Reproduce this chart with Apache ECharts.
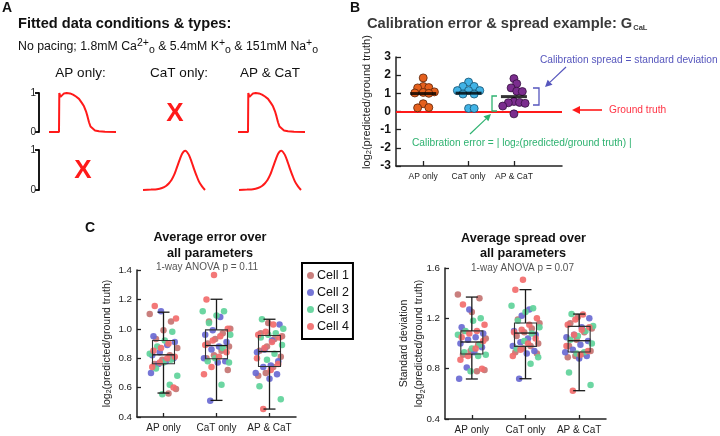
<!DOCTYPE html>
<html><head><meta charset="utf-8">
<script src="https://cdn.jsdelivr.net/npm/echarts@6/dist/echarts.min.js"></script>
<style>html,body{margin:0;padding:0;background:#fff}#c{width:720px;height:436px}</style>
</head><body><div id="c"></div>
<script>
// ---------- DATA ----------
const groups = ['AP only', 'CaT only', 'AP & CaT'];
const cells = ['Cell 1', 'Cell 2', 'Cell 3', 'Cell 4'];

// Panel A: normalised example traces
const apTime  = [0, 10, 10.3, 11.5, 13, 15, 17.7, 21, 24, 27, 30, 33, 35, 37, 38.5, 40, 41.5, 43, 46, 50, 56, 67];
const apValue = [0, 0, 1.0, 0.9, 0.95, 0.99, 1.0, 0.99, 0.96, 0.91, 0.85, 0.74, 0.66, 0.53, 0.4, 0.25, 0.14, 0.09, 0.04, 0.02, 0.005, 0];
const catTime  = [0, 8, 14, 19, 23, 26, 28.5, 31, 33, 35, 37, 39, 41, 42.5, 44, 46, 48.5, 51, 53.5, 56, 59, 62];
const catValue = [0, 0.01, 0.02, 0.05, 0.1, 0.17, 0.25, 0.37, 0.5, 0.64, 0.78, 0.9, 0.97, 0.98, 0.95, 0.87, 0.71, 0.53, 0.36, 0.21, 0.09, 0];
const traceTicks = [0, 1];

// Panel B: G_CaL example, log2(predicted/ground truth)
const gcalAP   = [1.85, 1.38, 1.32, 1.3, 1.08, 1.05, 1.02, 1.0, 0.43, 0.22, 0.2];
const gcalCaT  = [1.62, 1.38, 1.38, 1.15, 1.15, 1.15, 0.96, 0.96, 0.17, 0.17];
const gcalBoth = [1.81, 1.53, 1.3, 1.12, 1.1, 0.55, 0.5, 0.48, 0.45, 0.3, -0.13];
const bTicks = [-3, -2, -1, 0, 1, 2, 3];

// Panel C left: average error (per group: AP only, CaT only, AP & CaT)
const errCell1 = [[1.10, 1.05, 0.99, 0.93, 0.87, 0.82, 0.79, 0.76, 0.59, 0.56],
                  [1.05, 1.0, 0.97, 0.93, 0.90, 0.88, 0.85, 0.82, 0.80, 0.72],
                  [1.04, 0.97, 0.95, 0.93, 0.88, 0.85, 0.81, 0.74, 0.70, 0.68]];
const errCell2 = [[1.12, 0.95, 0.91, 0.89, 0.84, 0.82, 0.80, 0.78, 0.76, 0.70],
                  [1.08, 0.99, 0.96, 0.91, 0.88, 0.86, 0.80, 0.78, 0.77, 0.51],
                  [1.03, 0.92, 0.86, 0.84, 0.78, 0.75, 0.74, 0.70, 0.69, 0.66]];
const errCell3 = [[0.98, 0.92, 0.88, 0.83, 0.79, 0.77, 0.73, 0.68, 0.62, 0.555],
                  [1.12, 1.12, 1.09, 1.04, 0.96, 0.87, 0.80, 0.78, 0.77, 0.62],
                  [1.065, 1.0, 0.97, 0.96, 0.94, 0.89, 0.83, 0.79, 0.61, 0.52]];
const errCell4 = [[1.155, 1.07, 0.90, 0.87, 0.85, 0.81, 0.80, 0.77, 0.74, 0.60],
                  [1.366, 1.20, 1.0, 0.95, 0.92, 0.89, 0.84, 0.81, 0.74, 0.69],
                  [1.03, 0.98, 0.96, 0.94, 0.91, 0.87, 0.80, 0.76, 0.72, 0.454]];
// [min, Q1, median, Q3, max]
const errBoxes = [[0.563, 0.762, 0.823, 0.92, 1.113],
                  [0.513, 0.796, 0.886, 0.993, 1.201],
                  [0.454, 0.744, 0.845, 0.954, 1.065]];
const errTicks = [0.4, 0.6, 0.8, 1.0, 1.2, 1.4];

// Panel C right: average spread (standard deviation)
const sprCell1 = [[1.39, 1.36, 1.25, 1.10, 1.04, 0.99, 0.94, 0.91, 0.79, 0.78],
                  [1.19, 1.16, 1.12, 1.09, 1.06, 1.00, 0.98, 0.96, 0.93, 0.92],
                  [1.21, 1.16, 1.12, 1.09, 1.03, 0.98, 0.94, 0.92, 0.90, 0.89]];
const sprCell2 = [[1.27, 1.13, 1.08, 1.05, 1.03, 1.00, 0.97, 0.93, 0.81, 0.72],
                  [1.27, 1.22, 1.10, 1.07, 1.04, 1.01, 0.98, 0.94, 0.92, 0.72],
                  [1.20, 1.13, 1.07, 1.05, 1.02, 0.99, 0.95, 0.93, 0.90, 0.88]];
const sprCell3 = [[1.20, 1.18, 1.10, 1.07, 0.99, 0.96, 0.93, 0.91, 0.90, 0.78],
                  [1.30, 1.28, 1.25, 1.18, 1.13, 1.08, 1.02, 0.96, 0.89, 0.84],
                  [1.234, 1.14, 1.10, 1.06, 1.03, 1.0, 0.93, 0.92, 0.77, 0.67]];
const sprCell4 = [[1.31, 1.15, 1.10, 1.08, 1.05, 1.02, 0.96, 0.90, 0.87, 0.80],
                  [1.507, 1.428, 1.20, 1.15, 1.11, 1.09, 1.04, 1.00, 0.95, 0.90],
                  [1.23, 1.19, 1.15, 1.13, 1.11, 1.07, 0.98, 0.94, 0.91, 0.625]];
const sprBoxes = [[0.718, 0.916, 1.012, 1.10, 1.369],
                  [0.72, 0.977, 1.083, 1.163, 1.428],
                  [0.625, 0.932, 1.022, 1.136, 1.234]];
const sprTicks = [0.4, 0.8, 1.2, 1.6];

// ---------- STYLE ----------
const FONT = '"Liberation Sans", Arial, sans-serif';
const cellColors = ['#c47472', '#6a6ad2', '#5fd39a', '#f26c6c'];
const RED = '#ff1a1a';

// ---------- HELPERS ----------
const zip = (a, b) => a.map((v, i) => [v, b[i]]);
function jitter(k) { return (((k * 17) % 23) / 22 - 0.5) * 0.52; }
function cellPoints(cellArr, cellIdx) {
  const out = [];
  cellArr.forEach((vals, g) => vals.forEach((v, i) => out.push([g + jitter(cellIdx * 10 + i + g * 3), v])));
  return out;
}
function swarm(values, center, pxX, pxY, d) {
  const placed = [];
  const step = d / pxX / 2;
  values.forEach(v => {
    for (let k = 0; k < 40; k++) {
      const off = k === 0 ? 0 : (k % 2 ? 1 : -1) * Math.ceil(k / 2) * step;
      const ok = placed.every(p => Math.hypot((off - p[0]) * pxX, (v - p[1]) * pxY) >= d);
      if (ok) { placed.push([off, v]); break; }
    }
  });
  return placed.map(p => [center + p[0], p[1]]);
}
const mean = a => a.reduce((s, v) => s + v, 0) / a.length;

function boxRender(params, api) {
  const x = api.value(0);
  const c = v => api.coord([x, v]);
  const pMin = c(api.value(1)), pQ1 = c(api.value(2)), pMed = c(api.value(3)), pQ3 = c(api.value(4)), pMax = c(api.value(5));
  const cx = pMed[0], hw = 11, cw = 6;
  const ls = { stroke: '#1a1a1a', lineWidth: 1.3 };
  return { type: 'group', children: [
    { type: 'rect', shape: { x: cx - hw, y: pQ3[1], width: 2 * hw, height: pQ1[1] - pQ3[1] }, style: { stroke: '#333', lineWidth: 1.1, fill: 'rgba(0,0,0,0)' } },
    { type: 'line', shape: { x1: cx - hw, y1: pMed[1], x2: cx + hw, y2: pMed[1] }, style: ls },
    { type: 'line', shape: { x1: cx, y1: pQ3[1], x2: cx, y2: pMax[1] }, style: ls },
    { type: 'line', shape: { x1: cx, y1: pQ1[1], x2: cx, y2: pMin[1] }, style: ls },
    { type: 'line', shape: { x1: cx - cw, y1: pMax[1], x2: cx + cw, y2: pMax[1] }, style: ls },
    { type: 'line', shape: { x1: cx - cw, y1: pMin[1], x2: cx + cw, y2: pMin[1] }, style: ls }
  ]};
}

function txt(x, y, text, o) {
  return { type: 'text', x, y, z: 100, style: Object.assign({ text, fontFamily: FONT, fontSize: 12, fill: '#222', align: 'left', verticalAlign: 'middle' }, o || {}) };
}
function arrow(x1, y1, x2, y2, color, lw, L, W) {
  lw = lw || 1.2; L = L || 7; W = W || 3.5;
  const a = Math.atan2(y2 - y1, x2 - x1);
  const bx = x2 - L * Math.cos(a), by = y2 - L * Math.sin(a);
  const px = -Math.sin(a) * W, py = Math.cos(a) * W;
  return [
    { type: 'line', z: 100, shape: { x1, y1, x2: bx, y2: by }, style: { stroke: color, lineWidth: lw } },
    { type: 'polygon', z: 100, shape: { points: [[x2, y2], [bx + px, by + py], [bx - px, by - py]] }, style: { fill: color } }
  ];
}
function poly(points, color, lw) {
  return { type: 'polyline', z: 100, shape: { points }, style: { stroke: color, lineWidth: lw || 1.3, fill: null } };
}

// ---------- AXES ----------
const hiddenX = (gi, min, max) => ({ type: 'value', gridIndex: gi, min, max, show: false });
const hiddenY = gi => ({ type: 'value', gridIndex: gi, min: 0, max: 1, show: false });
const bracketY = gi => ({
  type: 'value', gridIndex: gi, min: 0, max: 1, interval: 1, offset: 10,
  axisLine: { show: true, onZero: false, lineStyle: { color: '#000', width: 1.8 } },
  axisTick: { show: true, inside: false, length: 4, lineStyle: { color: '#000', width: 1.8 } },
  axisLabel: { fontSize: 10, margin: 3, color: '#222', fontFamily: FONT },
  splitLine: { show: false }
});
const axLine = { show: true, onZero: false, lineStyle: { color: '#222', width: 1.5 } };
const axTick = { show: true, inside: true, length: 4, lineStyle: { color: '#222', width: 1.3 } };

const xAxis = [
  hiddenX(0, 0, 67), hiddenX(1, 0, 67), hiddenX(2, 0, 62), hiddenX(3, 0, 67), hiddenX(4, 0, 63),
  { type: 'value', gridIndex: 5, min: 0.4, max: 4.06, axisLine: axLine,
    axisTick: Object.assign({}, axTick, { length: 5, customValues: [1, 2, 3] }),
    axisLabel: { customValues: [1, 2, 3], formatter: v => groups[Math.round(v) - 1], fontSize: 8.5, margin: 6, color: '#222', fontFamily: FONT },
    splitLine: { show: false } },
  { type: 'category', gridIndex: 6, data: groups, axisLine: axLine,
    axisTick: Object.assign({}, axTick, { alignWithLabel: true }),
    axisLabel: { interval: 0, fontSize: 10, margin: 6, color: '#222', fontFamily: FONT } },
  hiddenX(6, -0.5, 2.5),
  { type: 'category', gridIndex: 7, data: groups, axisLine: axLine,
    axisTick: Object.assign({}, axTick, { alignWithLabel: true }),
    axisLabel: { interval: 0, fontSize: 10, margin: 6, color: '#222', fontFamily: FONT } },
  hiddenX(7, -0.5, 2.5)
];
const yAxis = [
  bracketY(0), bracketY(1), hiddenY(2), hiddenY(3), hiddenY(4),
  { type: 'value', gridIndex: 5, min: bTicks[0], max: bTicks[bTicks.length - 1], interval: 1,
    axisLine: axLine, axisTick: Object.assign({}, axTick, { length: 5 }),
    axisLabel: { fontSize: 12, fontWeight: 'bold', margin: 5, color: '#111', fontFamily: FONT },
    splitLine: { show: false } },
  { type: 'value', gridIndex: 6, min: errTicks[0], max: errTicks[errTicks.length - 1], interval: 0.2,
    axisLine: axLine, axisTick: axTick,
    axisLabel: { fontSize: 9.8, margin: 5, color: '#222', fontFamily: FONT, formatter: v => v.toFixed(1) },
    splitLine: { show: false },
    name: 'log{s|2}(predicted/ground truth)', nameLocation: 'middle', nameGap: 24,
    nameTextStyle: { fontSize: 10.5, color: '#222', fontFamily: FONT, rich: { s: { fontSize: 7, verticalAlign: 'bottom', fontFamily: FONT, color: '#222' } } } },
  { type: 'value', gridIndex: 7, min: sprTicks[0], max: sprTicks[sprTicks.length - 1], interval: 0.4,
    axisLine: axLine, axisTick: axTick,
    axisLabel: { fontSize: 9.8, margin: 5, color: '#222', fontFamily: FONT, formatter: v => v.toFixed(1) },
    splitLine: { show: false },
    name: 'Standard deviation\nlog{s|2}(predicted/ground truth)', nameLocation: 'middle', nameGap: 18, nameMoveOverlap: false,
    nameTextStyle: { fontSize: 10.5, lineHeight: 15, color: '#222', fontFamily: FONT, rich: { s: { fontSize: 7, verticalAlign: 'bottom', fontFamily: FONT, color: '#222' } } } }
];

// ---------- SERIES ----------
const series = [];
const traceLine = (xi, data, smooth) => ({ type: 'line', xAxisIndex: xi, yAxisIndex: xi, data, symbol: 'none', smooth, clip: false,
  lineStyle: { color: RED, width: 2 }, silent: true, z: 5 });
series.push(traceLine(0, zip(apTime, apValue), false));
series.push(traceLine(1, [], false));
series.push(traceLine(2, zip(catTime, catValue), 0.3));
series.push(traceLine(3, zip(apTime, apValue), false));
series.push(traceLine(4, zip(catTime, catValue), 0.3));

// Panel B
const bPxX = 166 / (4.06 - 0.4), bPxY = 109 / 6, bD = 5.6;
const bSets = [[gcalAP, '#e5601d', '#5a2308'], [gcalCaT, '#41b3e6', '#14506e'], [gcalBoth, '#7b2d8e', '#35103f']];
bSets.forEach((s, i) => {
  series.push({ type: 'scatter', xAxisIndex: 5, yAxisIndex: 5, data: swarm(s[0], i + 1, bPxX, bPxY, bD),
    symbolSize: 8, itemStyle: { color: s[1], borderColor: s[2], borderWidth: 0.8, opacity: 1 }, z: 4,
    markLine: i === 0 ? { silent: true, symbol: 'none', label: { show: false }, lineStyle: { color: RED, width: 2, type: 'solid' }, data: [{ yAxis: 0 }], z: 3 } : undefined });
});
series.push({ type: 'scatter', xAxisIndex: 5, yAxisIndex: 5, symbol: 'rect', symbolSize: [26, 3],
  data: [[1, mean(gcalAP)], [2, mean(gcalCaT)], [3, mean(gcalBoth)]], itemStyle: { color: '#000' }, z: 6 });

// Panel C
const errCells = [errCell1, errCell2, errCell3, errCell4];
const sprCells = [sprCell1, sprCell2, sprCell3, sprCell4];
errCells.forEach((c, i) => series.push({ type: 'scatter', name: cells[i], xAxisIndex: 7, yAxisIndex: 6, data: cellPoints(c, i),
  symbolSize: 6.5, itemStyle: { color: cellColors[i], opacity: 0.92 }, z: 2 }));
sprCells.forEach((c, i) => series.push({ type: 'scatter', name: cells[i], xAxisIndex: 9, yAxisIndex: 7, data: cellPoints(c, i),
  symbolSize: 6.5, itemStyle: { color: cellColors[i], opacity: 0.92 }, z: 2 }));
series.push({ type: 'custom', xAxisIndex: 6, yAxisIndex: 6, renderItem: boxRender, encode: { x: 0, y: [1, 2, 3, 4, 5] },
  data: errBoxes.map((b, i) => [i].concat(b)), z: 5, silent: true });
series.push({ type: 'custom', xAxisIndex: 8, yAxisIndex: 7, renderItem: boxRender, encode: { x: 0, y: [1, 2, 3, 4, 5] },
  data: sprBoxes.map((b, i) => [i].concat(b)), z: 5, silent: true });

// ---------- GRAPHICS (titles, annotations) ----------
const subRich = { s: { fontSize: 7.5, verticalAlign: 'bottom', fontFamily: FONT } };
const BLUE = '#5656bd', GREEN = '#2eb270', GTRED = '#ff3344';
const graphic = [
  txt(2, 8, 'A', { fontSize: 14, fontWeight: 'bold', fill: '#111' }),
  txt(350, 8, 'B', { fontSize: 14, fontWeight: 'bold', fill: '#111' }),
  txt(85, 228, 'C', { fontSize: 14, fontWeight: 'bold', fill: '#111' }),
  txt(18, 24, 'Fitted data conditions & types:', { fontSize: 14.6, fontWeight: 'bold', fill: '#111' }),
  txt(18, 47, 'No pacing; 1.8mM Ca{sup|2+}{sub|o} & 5.4mM K{sup|+}{sub|o} & 151mM Na{sup|+}{sub|o}', { fontSize: 12.3, lineHeight: 18, fill: '#111',
    rich: { sup: { fontSize: 10.5, lineHeight: 10, verticalAlign: 'top', fontFamily: FONT, fill: '#111' }, sub: { fontSize: 10.5, lineHeight: 10, verticalAlign: 'bottom', fontFamily: FONT, fill: '#111' } } }),
  txt(80.5, 73, 'AP only:', { fontSize: 13.5, align: 'center', fill: '#111' }),
  txt(179, 73, 'CaT only:', { fontSize: 13.5, align: 'center', fill: '#111' }),
  txt(270, 73, 'AP & CaT', { fontSize: 13.5, align: 'center', fill: '#111' }),
  txt(175, 114, 'X', { fontSize: 26, fontWeight: 'bold', fill: RED, align: 'center' }),
  txt(83, 171, 'X', { fontSize: 26, fontWeight: 'bold', fill: RED, align: 'center' }),
  // Panel B
  txt(367, 24, 'Calibration error & spread example: G{s|CaL}', { fontSize: 14.7, fontWeight: 'bold', fill: '#3a3a3a',
    rich: { s: { fontSize: 7.5, fontWeight: 'bold', verticalAlign: 'bottom', fontFamily: FONT, fill: '#3a3a3a', padding: [0, 0, 0, 1] } } }),
  { type: 'text', x: 367, y: 102, rotation: Math.PI / 2, z: 100,
    style: { text: 'log{s|2}(predicted/ground truth)', fontFamily: FONT, fontSize: 11, fill: '#222', align: 'center', verticalAlign: 'middle', rich: subRich } },
  txt(540, 60, 'Calibration spread = standard deviation', { fontSize: 10.2, fill: BLUE }),
  ...arrow(566, 67, 545, 87, BLUE, 1.2),
  poly([[533, 88], [539, 88], [539, 105], [533, 105]], BLUE, 1.3),
  txt(609, 110, 'Ground truth', { fontSize: 10.2, fill: GTRED }),
  ...arrow(602, 110, 572, 110, RED, 1.6, 8, 4),
  poly([[497, 96], [492, 96], [492, 111], [497, 111]], GREEN, 1.3),
  ...arrow(470, 134, 491, 114, GREEN, 1.2),
  txt(412, 143, 'Calibration error = | log{s|2}(predicted/ground truth) |', { fontSize: 10.2, fill: GREEN,
    rich: { s: { fontSize: 7, verticalAlign: 'bottom', fontFamily: FONT, fill: GREEN } } }),
  // Panel C titles
  txt(210, 237, 'Average error over', { fontSize: 12.7, fontWeight: 'bold', fill: '#111', align: 'center' }),
  txt(210, 253, 'all parameters', { fontSize: 12.7, fontWeight: 'bold', fill: '#111', align: 'center' }),
  txt(207, 267, '1-way ANOVA p = 0.11', { fontSize: 10, fill: '#555', align: 'center' }),
  txt(523.5, 238, 'Average spread over', { fontSize: 12.7, fontWeight: 'bold', fill: '#111', align: 'center' }),
  txt(523, 253, 'all parameters', { fontSize: 12.7, fontWeight: 'bold', fill: '#111', align: 'center' }),
  txt(522.5, 268, '1-way ANOVA p = 0.07', { fontSize: 10, fill: '#555', align: 'center' })
];

const chart = echarts.init(document.getElementById('c'), null, { renderer: 'canvas' });
chart.setOption({
  animation: false,
  backgroundColor: '#fff',
  textStyle: { fontFamily: FONT },
  grid: [
    { left: 49, top: 93, width: 67, height: 39 },
    { left: 49, top: 150, width: 67, height: 40 },
    { left: 143, top: 150, width: 62, height: 40 },
    { left: 238, top: 93, width: 67, height: 39 },
    { left: 239, top: 150, width: 63, height: 40 },
    { left: 396, top: 57, width: 166, height: 109 },
    { left: 137, top: 270, width: 159, height: 147 },
    { left: 445, top: 268, width: 161, height: 151 }
  ],
  legend: { data: cells, left: 302, top: 263, orient: 'vertical', icon: 'circle', itemWidth: 7, itemHeight: 7, itemGap: 4,
    padding: [6, 4, 6, 5], borderColor: '#000', borderWidth: 2, selectedMode: false,
    textStyle: { fontSize: 12.5, lineHeight: 13, color: '#111', fontFamily: FONT, padding: [0, 0, 0, -2] } },
  xAxis, yAxis, series, graphic
});
</script></body></html>
